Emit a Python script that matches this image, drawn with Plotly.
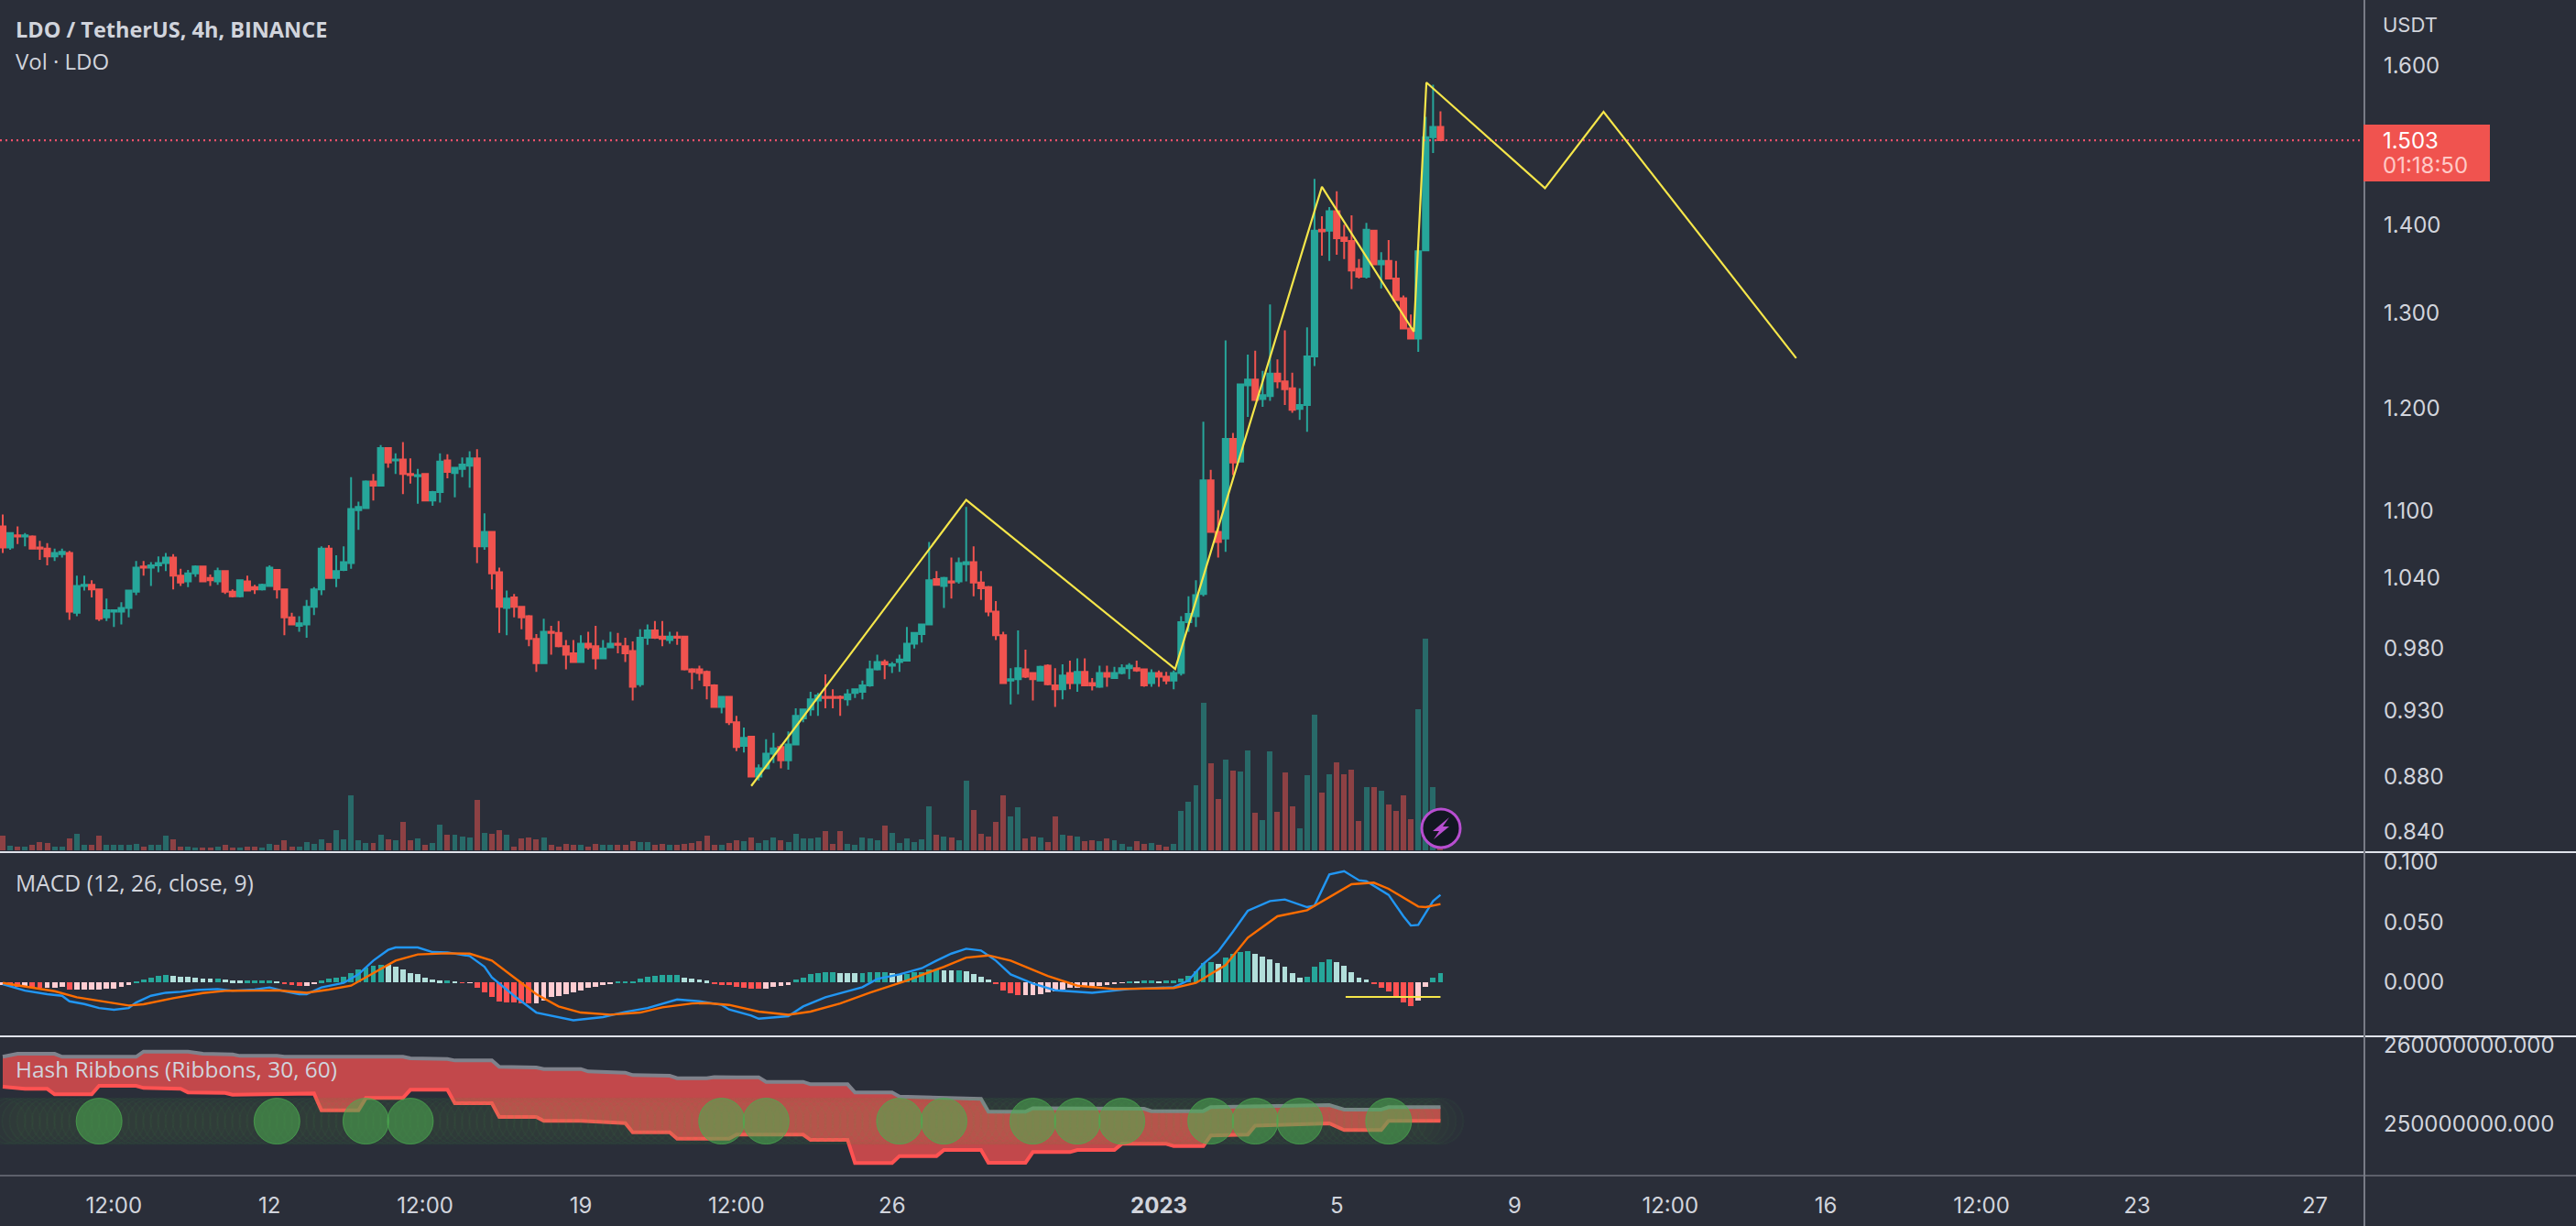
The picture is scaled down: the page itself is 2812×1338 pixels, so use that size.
import numpy as np
import plotly.graph_objects as go

# ---------- price data (4h candles) ----------
opens = [1.086,1.067,1.078,1.077,1.077,1.067,1.066,1.059,1.061,1.062,
 1.010,1.033,1.034,1.030,1.006,1.011,1.011,1.014,1.028,1.050,
 1.049,1.051,1.053,1.058,1.042,1.037,1.044,1.050,1.040,1.037,
 1.046,1.028,1.024,1.037,1.032,1.030,1.033,1.047,1.030,1.006,
 .999,1.000,1.015,1.030,1.066,1.040,1.047,1.053,1.101,1.103,
 1.128,1.124,1.160,1.148,1.149,1.135,1.133,1.135,1.110,1.118,
 1.148,1.136,1.140,1.143,1.150,1.068,1.081,1.045,1.014,1.023,
 1.015,1.007,.988,.968,.994,.993,.982,.976,.969,.984,
 .982,.972,.981,.984,.982,.978,.951,.989,.995,.990,
 .987,.990,.990,.963,.963,.961,.950,.933,.941,.921,
 .903,.910,.880,.886,.897,.902,.892,.904,.924,.931,
 .938,.941,.941,.941,.939,.944,.945,.950,.963,.969,
 .966,.969,.970,.984,.992,1.000,1.039,1.033,1.037,1.037,
 1.052,1.054,1.036,1.032,1.011,.991,.954,.955,.963,.960,
 .954,.966,.950,.947,.960,.952,.961,.952,.949,.960,
 .956,.960,.964,.964,.963,.952,.960,.957,.954,.960,
 1.002,1.007,1.026,1.129,1.081,1.075,1.169,1.147,1.223,1.229,
 1.209,1.212,1.235,1.227,1.220,1.199,1.203,1.253,1.394,1.393,
 1.416,1.385,1.381,1.349,1.340,1.393,1.354,1.358,1.338,1.316,
 1.283,1.272,1.370,1.507,1.520]
highs = [1.097,1.080,1.086,1.080,1.078,1.073,1.071,1.066,1.066,1.064,
 1.042,1.042,1.038,1.030,1.022,1.012,1.019,1.029,1.055,1.055,
 1.054,1.059,1.062,1.061,1.048,1.047,1.051,1.050,1.043,1.049,
 1.046,1.030,1.038,1.042,1.034,1.035,1.051,1.047,1.030,1.010,
 1.007,1.021,1.032,1.068,1.069,1.060,1.068,1.132,1.109,1.129,
 1.135,1.163,1.160,1.155,1.166,1.150,1.140,1.135,1.119,1.155,
 1.154,1.142,1.151,1.157,1.159,1.098,1.081,1.049,1.029,1.026,
 1.015,1.008,.992,1.005,.999,1.003,.987,.987,.991,.994,
 .999,.987,.994,.993,.989,.986,.996,1.000,1.003,1.003,
 .994,.994,.990,.964,.966,.962,.951,.941,.941,.926,
 .917,.910,.889,.908,.913,.904,.914,.932,.931,.945,
 .944,.959,.947,.942,.947,.947,.954,.970,.975,.971,
 .969,.975,.998,.993,1.000,1.072,1.046,1.041,1.058,1.058,
 1.104,1.068,1.046,1.033,1.020,.994,.964,.995,.979,.960,
 .966,.967,.964,.967,.970,.972,.972,.956,.966,.966,
 .965,.967,.968,.970,.963,.963,.962,.961,.962,1.007,
 1.024,1.038,1.186,1.139,1.101,1.270,1.175,1.224,1.255,1.259,
 1.238,1.309,1.250,1.281,1.236,1.220,1.284,1.455,1.410,1.421,
 1.440,1.400,1.411,1.360,1.402,1.394,1.368,1.382,1.358,1.319,
 1.298,1.377,1.533,1.575,1.540]
lows = [1.062,1.065,1.070,1.068,1.066,1.056,1.051,1.055,1.058,1.004,
 1.007,1.029,1.023,1.003,1.003,.998,1.000,1.006,1.025,1.042,
 1.033,1.045,1.046,1.030,1.033,1.032,1.041,1.037,1.033,1.034,
 1.026,1.023,1.023,1.029,1.026,1.029,1.033,1.022,.991,1.000,
 .994,.989,1.008,1.025,1.040,1.032,1.046,1.048,1.083,1.102,
 1.110,1.124,1.141,1.135,1.116,1.126,1.107,1.110,1.105,1.108,
 1.131,1.113,1.132,1.122,1.053,1.065,1.030,.993,.991,1.006,
 .996,.982,.961,.968,.975,.981,.963,.969,.969,.979,
 .963,.972,.981,.976,.969,.938,.949,.983,.988,.982,
 .984,.983,.962,.947,.954,.939,.933,.928,.919,.899,
 .898,.880,.877,.886,.890,.886,.885,.904,.921,.926,
 .926,.932,.932,.926,.934,.940,.939,.949,.962,.955,
 .960,.961,.970,.980,.985,1.000,1.034,1.014,1.022,1.035,
 1.037,1.024,1.021,1.007,.987,.952,.935,.943,.956,.938,
 .954,.950,.933,.939,.947,.945,.950,.946,.948,.949,
 .956,.959,.955,.961,.949,.949,.949,.951,.947,.958,
 .994,.998,1.024,1.081,1.058,1.063,1.134,1.147,1.191,1.207,
 1.201,1.207,1.220,1.203,1.195,1.188,1.176,1.243,1.364,1.358,
 1.365,1.360,1.326,1.338,1.338,1.353,1.327,1.337,1.313,1.282,
 1.271,1.258,1.370,1.487,1.502]
closes = [1.067,1.080,1.077,1.078,1.066,1.066,1.059,1.062,1.063,1.011,
 1.033,1.034,1.030,1.005,1.012,1.012,1.014,1.029,1.049,1.049,
 1.051,1.053,1.058,1.042,1.036,1.044,1.050,1.037,1.038,1.046,
 1.028,1.024,1.038,1.029,1.030,1.034,1.049,1.030,1.006,1.000,
 1.001,1.015,1.030,1.066,1.040,1.046,1.054,1.102,1.104,1.128,
 1.124,1.160,1.146,1.149,1.135,1.134,1.134,1.110,1.118,1.147,
 1.137,1.141,1.144,1.150,1.068,1.081,1.044,1.015,1.022,1.015,
 1.006,.988,.968,.994,.993,.982,.975,.969,.984,.981,
 .972,.980,.984,.983,.976,.949,.989,.995,.989,.988,
 .990,.989,.963,.961,.960,.950,.933,.941,.921,.902,
 .909,.880,.886,.897,.901,.892,.904,.926,.931,.939,
 .942,.940,.940,.940,.943,.947,.950,.963,.969,.967,
 .967,.971,.984,.993,1.000,1.038,1.034,1.040,1.036,1.053,
 1.054,1.036,1.031,1.011,.991,.952,.955,.964,.957,.955,
 .965,.951,.947,.958,.952,.961,.950,.950,.960,.957,
 .960,.964,.966,.962,.950,.960,.957,.954,.960,1.002,
 1.009,1.025,1.129,1.081,1.072,1.169,1.146,1.224,1.229,1.208,
 1.213,1.235,1.227,1.219,1.198,1.203,1.253,1.393,1.392,1.416,
 1.384,1.381,1.347,1.340,1.394,1.354,1.358,1.338,1.314,1.283,
 1.272,1.369,1.507,1.520,1.503]
volumes = [16,5,4,4,6,9,8,4,4,13, 18,6,6,16,6,6,6,6,7,4, 6,6,16,12,4,4,3,3,3,4,
 6,3,3,4,4,3,7,6,11,4, 4,9,7,12,8,22,12,60,11,8, 8,17,12,11,31,11,13,6,8,28,
 17,17,15,14,55,19,18,22,17,4, 13,14,12,14,6,4,7,6,6,4, 7,6,6,6,6,10,9,
 9,6,7,6,6,7,8,10,16,6, 6,8,11,10,14,8,11,14,11,9, 18,13,13,14,21,7,21,7,6,14,
 13,11,27,19,8,13,9,12,48,17, 15,14,11,76,44,18,15,31,60,37, 47,13,15,14,9,37,17,16,15,10,
 11,10,13,11,7,4,10,7,8,6, 4,7,
 43,53,71,161,95,56,99,87,86,109, 41,33,108,42,85,48,24,82,148,63,
 83,96,83,88,32,69,69,65,50,43, 60,34,154,231,69,18]

# hand-drawn wave on the price chart
wave_bars = [101,130,158.2,178,190.4,192.1,208.1,216,242]
wave_prices = [.873,1.1105,.9633,1.4454,1.2794,1.578,1.4437,1.5395,1.2513]

# ---------- MACD (thousandths) ----------
macd_hist = [-2.3,-3.1,-3.6,-3.6,-4.1,-4.8,-4.8,-4.3,-3.6,-6.1,-6.1,-6.1,-6.1,-6.1,-5.6,-5.1,-4.1,-2.5,
 .8,2.3,4.1,5.3,6.1,5.6,4.8,4.6,4.1,3.3,2.8,3.3,2.3,1.5,1.3,1.3,1.3,1.3,1.3,1.0,
 -1.0,-2.3,-3.1,-2.8,-1.0,1.5,3.3,4.1,4.6,7.9,10.4,12.2,13.5,14.8,14.3,13.0,10.4,7.9,6.6,4.1,2.0,1.3,1.3,1.0,
 -.5,-.5,-4.8,-8.1,-12.5,-16.3,-16.8,-17.1,-17.3,-17.6,-17.6,-15.5,-12.5,-11.2,-9.9,-8.7,-6.6,-4.8,-3.6,-2.3,-1.0,
 1.0,1.0,1.0,2.8,4.6,5.6,5.9,6.1,6.1,4.1,2.8,2.0,1.3,
 -1.5,-2.3,-2.5,-4.1,-4.3,-5.1,-5.3,-5.1,-4.1,-3.1,-2.3,
 2.0,4.1,6.6,7.9,8.1,8.1,7.9,7.6,7.4,7.4,8.1,8.4,8.4,7.9,7.1,7.1,8.1,8.7,10.7,10.7,10.2,9.9,9.9,9.2,7.1,4.8,2.3,
 -1.0,-6.6,-9.2,-10.4,-10.4,-10.4,-9.7,-8.7,-7.4,-6.1,-4.8,-4.3,-4.1,-3.6,-3.1,-2.3,-1.5,-.5,
 1.0,.8,1.3,1.3,1.0,1.3,1.3,3.3,5.3,9.2,16.3,16.8,15.5,20.6,23.9,25.5,26.2,23.9,21.4,19.3,16.0,13.0,7.4,4.1,4.6,
 13.0,16.8,19.1,16.8,13.7,8.1,3.6,2.5,-1.5,-4.8,-7.9,-12.0,-16.8,-20.1,-15.0,-3.6,4.1,7.6]
macd_bars = [0,2,3,6,8,9,11,13,15,17,18,20,22,24,26,29,31,34,36,38,40,41,43,46,48,50,52,53,56,58,60,63,65,66,69,
 72,75,77,81,84,87,89,91,94,97,98,101,102,106,108,111,116,118,121,124,126,128,130,132,134,136,139,142,147,152,158,
 160,162,164,166,168,171,173,176,177,179,181,183,184,187,189,190,191,193,194]
macd_line = [-1.5,-4.8,-6.9,-9.9,-11.2,-15.8,-18.1,-21.4,-22.9,-21.4,-16.8,-11.2,-8.7,-7.9,-6.4,-5.6,-6.9,-6.1,-4.3,-7.4,
 -9.9,-9.9,-4.3,-.5,6.6,18.1,27.0,29.0,29.0,25.2,24.9,21.9,13.0,4.1,-11.2,
 -25.2,-29.0,-31.6,-29.0,-24.7,-21.4,-17.6,-14.3,-15.8,-18.8,-22.6,-27.7,-30.3,-28.2,-20.1,-12.5,-4.1,2.8,6.6,11.7,18.1,
 23.9,28.0,26.5,18.1,6.6,-1.0,-6.6,-8.7,-5.6,-4.1,
 1.5,15.5,25.7,42.2,59.6,67.7,69.0,62.6,63.9,89.8,92.6,85.0,84.2,72.8,55.0,47.3,47.8,67.7,72.8]
signal_bars = [0,3,7,10,14,17,19,23,27,30,34,37,41,44,47,50,53,56,60,63,66,69,72,75,78,82,86,89,93,95,98,
 102,106,109,113,117,122,127,130,133,136,141,145,150,158,161,165,168,172,176,180,182,185,187,191,192,194]
signal_line = [-.5,-3.6,-7.4,-12.5,-16.3,-19.3,-18.3,-13.2,-8.9,-7.1,-6.9,-6.6,-8.7,-6.1,-2.8,7.9,18.1,23.2,24.2,23.9,18.1,
 4.1,-9.9,-20.1,-25.2,-27.0,-25.2,-20.9,-17.6,-17.3,-18.8,
 -24.4,-27.0,-24.4,-17.6,-8.7,1.5,13.0,20.6,22.4,18.1,5.3,-2.8,-5.6,-4.8,-.5,14.3,37.2,55.0,60.1,74.1,81.7,83.0,77.9,63.1,62.6,65.2]
macd_mark_bars = [181.2,194]
macd_mark_vals = [-12.2,-12.2]

# ---------- Hash Ribbons (millions) ----------
slow_bars = [0,2,7,8,18,19,25,27,31,32,37,38,54,55,60,61,66,67,72,73,78,79,84,85,90,91,95,96,99,102,103,108,109,114,115,
 120,121,132,133,138,139,154,155,162,163,179,181,186,187,194]
slow_vals = [258.57,258.95,258.95,258.57,258.57,259.22,259.22,258.95,258.88,258.68,258.68,258.57,258.57,258.37,258.29,258.10,
 258.10,257.29,257.21,257.02,257.02,256.71,256.55,256.24,256.16,255.85,255.85,256.0,255.97,255.97,255.39,255.39,255.08,255.08,254.03,
 254.03,253.53,253.22,251.59,251.59,252.05,251.98,251.67,251.67,252.17,252.44,251.86,251.86,252.17,252.17]
fast_bars = [0,3,6,7,12,13,18,19,24,25,30,31,42,43,48,49,54,55,60,61,66,67,72,73,78,84,85,90,91,98,99,108,109,114,115,
 120,121,126,127,132,133,138,139,144,145,150,151,157,158,162,163,168,169,179,181,186,187,194]
fast_vals = [254.77,254.50,254.50,253.80,253.80,254.88,254.88,254.61,254.50,254.03,253.99,253.76,253.91,251.78,251.78,253.33,
 253.33,254.38,254.38,252.67,252.67,250.93,250.93,250.43,250.43,250.16,248.99,248.99,248.18,248.18,248.68,248.68,248.02,248.02,245.08,
 245.08,245.97,245.97,246.74,246.74,245.12,245.12,246.47,246.47,246.74,246.74,247.52,247.52,247.25,247.25,248.57,248.68,249.84,250.12,
 249.26,249.26,250.43,250.43]
signal_level = 250.4
buy_bars = [13,37,49,55,97,103,121,127,139,145,151,163,169,175,187]

# ---------- axis text ----------
x_tick_bars = [15,36,57,78,99,120,156,180,204,225,246,267,288,312]
x_tick_labels = ["12:00","12","12:00","19","12:00","26","<b>2023</b>","5","9","12:00","16","12:00","23","27"]
price_ticks = [1.6,1.4,1.3,1.2,1.1,1.04,.98,.93,.88,.84]
price_tick_labels = ["1.600","1.400","1.300","1.200","1.100","1.040","0.980","0.930","0.880","0.840"]
last_price = 1.503

# ---------- styling ----------
W, H = 2812, 1338
AXIS_X = 2581
BG = "#2a2e39"
UP, DOWN = "#26a69a", "#f0534f"
TXT = "#d1d4dc"
SANS = "Open Sans"
NUM = "Inter"

def px(x, y):
    return x / W, 1 - y / H

bars = np.arange(len(closes))
up = np.array(closes) >= np.array(opens)
vol_colors = ["rgba(38,166,154,0.5)" if u else "rgba(239,83,80,0.5)" for u in up]

hist = np.array(macd_hist) / 1000
hist_colors = []
for i, v in enumerate(hist):
    prev = hist[i - 1] if i else v
    if v >= 0:
        hist_colors.append("#26a69a" if v >= prev else "#b2dfdb")
    else:
        hist_colors.append("#ffcdd2" if v >= prev else "#ff5252")

x_left = -3 / 8.09
x_right = (AXIS_X - 3) / 8.09

fig = go.Figure()
# volume (base of the main panel)
fig.add_trace(go.Bar(x=bars, y=volumes, marker=dict(color=vol_colors, line_width=0), width=0.74,
                     xaxis="x", yaxis="y"))
# price
fig.add_trace(go.Scatter(x=[x_left, x_right], y=[last_price, last_price], mode="lines",
                         line=dict(color="#f0506a", width=2.4, dash="2px,4px"), xaxis="x", yaxis="y2"))
fig.add_trace(go.Candlestick(x=bars, open=opens, high=highs, low=lows, close=closes,
                             increasing=dict(line=dict(color=UP, width=2), fillcolor=UP),
                             decreasing=dict(line=dict(color=DOWN, width=2), fillcolor=DOWN),
                             whiskerwidth=0, xaxis="x", yaxis="y2"))
fig.add_trace(go.Scatter(x=wave_bars, y=wave_prices, mode="lines",
                         line=dict(color="#f5e64a", width=2.2), xaxis="x", yaxis="y2"))
# MACD
fig.add_trace(go.Bar(x=bars, y=hist, marker=dict(color=hist_colors, line_width=0), width=0.72,
                     xaxis="x", yaxis="y3"))
fig.add_trace(go.Scatter(x=macd_bars, y=np.array(macd_line) / 1000, mode="lines",
                         line=dict(color="#2196f3", width=2.4), xaxis="x", yaxis="y3"))
fig.add_trace(go.Scatter(x=signal_bars, y=np.array(signal_line) / 1000, mode="lines",
                         line=dict(color="#ff6d00", width=2.4), xaxis="x", yaxis="y3"))
fig.add_trace(go.Scatter(x=macd_mark_bars, y=np.array(macd_mark_vals) / 1000, mode="lines",
                         line=dict(color="#f5e64a", width=2), xaxis="x", yaxis="y3"))
# Hash ribbons: slow boundary, fast line with the fill, slow line again on top of the fill
fig.add_trace(go.Scatter(x=slow_bars, y=np.array(slow_vals) * 1e6, mode="lines",
                         line=dict(color="#7f828c", width=0), xaxis="x", yaxis="y4"))
fig.add_trace(go.Scatter(x=fast_bars, y=np.array(fast_vals) * 1e6, mode="lines",
                         line=dict(color="#ff5252", width=4), fill="tonexty",
                         fillcolor="rgba(245,82,82,0.75)", xaxis="x", yaxis="y4"))
fig.add_trace(go.Scatter(x=slow_bars, y=np.array(slow_vals) * 1e6, mode="lines",
                         line=dict(color="#7f828c", width=4), xaxis="x", yaxis="y4"))
fig.add_trace(go.Scatter(x=bars, y=np.full(len(bars), signal_level * 1e6), mode="markers",
                         marker=dict(size=50, color="rgba(80,180,85,0.018)",
                                     line=dict(color="rgba(80,180,85,0.05)", width=2)),
                         xaxis="x", yaxis="y4"))
fig.add_trace(go.Scatter(x=buy_bars, y=[signal_level * 1e6] * len(buy_bars), mode="markers",
                         marker=dict(size=50, color="rgba(76,172,80,0.55)",
                                     line=dict(color="rgba(76,172,80,0.7)", width=1)),
                         xaxis="x", yaxis="y4"))

def domain(y0, y1):
    return [1 - y1 / H, 1 - y0 / H]

tickfont = dict(family=NUM, size=24, color=TXT)
common_y = dict(showgrid=False, zeroline=False, showline=False, ticks="", side="right", anchor="x",
                ticklabelposition="outside", ticklabelstandoff=20, tickfont=tickfont, fixedrange=True)

p_top = 1.6 * np.exp(72 / 1297)
p_bot = 1.6 * np.exp((72 - 930) / 1297)

shapes = []
for y, color in ((930, "#e0e3eb"), (1131, "#e0e3eb"), (1283, "#5d606b")):
    shapes.append(dict(type="line", xref="paper", yref="paper", x0=0, x1=1, y0=1 - y / H, y1=1 - y / H,
                       line=dict(color=color, width=2), layer="above"))
shapes.append(dict(type="line", xref="paper", yref="paper", x0=AXIS_X / W, x1=AXIS_X / W, y0=0, y1=1,
                   line=dict(color="#787b86", width=2), layer="above"))
# last-price tag
shapes.append(dict(type="rect", xref="paper", yref="paper", x0=px(2580, 0)[0], x1=px(2718, 0)[0],
                   y0=px(0, 198)[1], y1=px(0, 136)[1], fillcolor="#f0534f", line_width=0, layer="above"))
# lightning badge
cx, cy, r = 1573, 904, 21
shapes.append(dict(type="circle", xref="paper", yref="paper", x0=px(cx - r, 0)[0], x1=px(cx + r, 0)[0],
                   y0=px(0, cy + r)[1], y1=px(0, cy - r)[1], fillcolor="#131722",
                   line=dict(color="#b84ed0", width=3), layer="above"))
bolt = [(9, -12), (-9, 3), (-2, 3), (-8, 12), (9, -2), (2, -2)]
path = "M " + " L ".join("%.5f %.5f" % px(cx + a, cy + b) for a, b in bolt) + " Z"
shapes.append(dict(type="path", xref="paper", yref="paper", path=path, fillcolor="#b84ed0", line_width=0, layer="above"))

def label(x, y, text, size=23, family=SANS, color=TXT):
    xp, yp = px(x, y)
    return dict(xref="paper", yref="paper", x=xp, y=yp, text=text, showarrow=False, xanchor="left", yanchor="middle",
                font=dict(family=family, size=size, color=color), align="left")

annotations = [
    label(15, 32, "<b>LDO / TetherUS, 4h, BINANCE</b>", 23.5),
    label(15, 66, "Vol · LDO", 24),
    label(15, 963, "MACD (12, 26, close, 9)", 24.7),
    label(15, 1166, "Hash Ribbons (Ribbons, 30, 60)", 24.4),
    label(2599, 27, "USDT", 22, NUM),
    label(2599, 153, "1.503", 24, NUM, "#ffffff"),
    label(2599, 181, "01:18:50", 24, NUM, "#ffc9c6"),
]

fig.update_layout(
    width=W, height=H, margin=dict(l=0, r=0, t=0, b=0, pad=0, autoexpand=False), autosize=False,
    paper_bgcolor=BG, plot_bgcolor=BG, showlegend=False, hovermode=False, bargap=0, barmode="overlay",
    boxgap=0.25, boxgroupgap=0, dragmode=False,
    xaxis=dict(domain=[0, AXIS_X / W], range=[x_left, x_right], anchor="y4", showgrid=False, zeroline=False,
               showline=False, ticks="", tickmode="array", tickvals=x_tick_bars, ticktext=x_tick_labels,
               tickfont=tickfont, ticklabelstandoff=16, rangeslider=dict(visible=False), tickangle=0),
    yaxis=dict(domain=domain(0, 930), range=[-2, 928], visible=False, fixedrange=True, anchor="x"),
    yaxis2=dict(common_y, domain=domain(0, 930), overlaying="y", type="log",
                range=[np.log10(p_bot), np.log10(p_top)], tickmode="array",
                tickvals=price_ticks, ticktext=price_tick_labels),
    yaxis3=dict(common_y, domain=domain(932, 1131), range=[-0.045, 0.1069], tickmode="array",
                tickvals=[0, 0.05, 0.1], ticktext=["0.000", "0.050", "0.100"]),
    yaxis4=dict(common_y, domain=domain(1133, 1283), range=[243.49e6, 260.93e6], tickmode="array",
                tickvals=[250e6, 260e6], ticktext=["250000000.000", "260000000.000"]),
    shapes=shapes, annotations=annotations,
)

fig.write_html("out.html", config={"displayModeBar": False},
               post_script="document.body.style.margin='0';document.body.style.background='%s';" % BG)
